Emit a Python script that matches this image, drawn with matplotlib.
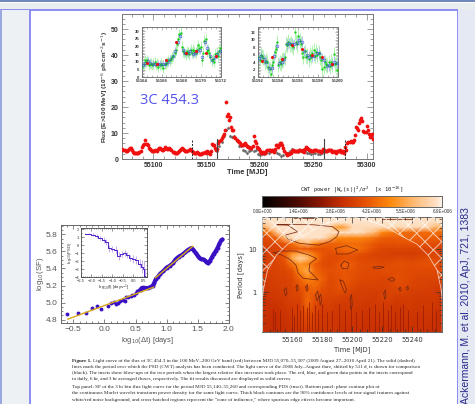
import numpy as np
import matplotlib
matplotlib.use("Agg")
import matplotlib.pyplot as plt
from matplotlib.colors import LinearSegmentedColormap
from matplotlib.patches import Rectangle
from matplotlib.ticker import MultipleLocator, FixedLocator, NullFormatter, FormatStrFormatter

# ---------- data ----------
flux_mjd = [55071,55073,55075,55077,55079,55081,55083,55085,55087,55089,55091,55092,55093,55095,55097,55099,
            55101,55103,55105,55107,55109,55111,55113,55115,55117,55119,55121,55123,55125,55127,55129,55131,
            55133,55135,55137,55139,55141,55143,55145,55147,55149,55151,55153,55155,55157,55159,55161,55163,
            55165,55167,55168,55169,55170,55171,55172,55174,55175,55176,55178,55180,55182,55184,55186,55188,
            55190,55192,55194,55195,55197,55199,55201,55203,55205,55207,55209,55211,55213,55215,55217,55219,
            55221,55223,55225,55227,55229,55231,55233,55235,55237,55239,55241,55243,55245,55247,55249,55251,
            55253,55255,55257,55259,55261,55263,55265,55267,55269,55271,55273,55275,55277,55279,55281,55283,
            55285,55287,55289,55290,55292,55293,55295,55296,55297,55299,55300,55301,55303,55305,55306]
flux_val = [3.9,3.5,3.0,3.8,4.1,2.7,2.2,2.3,2.6,4.5,5.8,7.3,5.6,5.2,4.0,3.0,
            3.1,3.2,4.4,3.9,3.5,4.6,3.8,4.3,3.3,2.6,2.3,2.6,3.5,4.1,3.5,3.0,
            3.4,3.6,2.6,2.2,2.6,1.9,2.0,2.4,2.5,2.8,1.9,5.7,5.2,3.5,6.0,7.5,
            8.8,11.0,22.0,16.5,17.5,15.0,16.0,11.0,11.2,8.5,7.5,6.5,5.5,5.5,6.0,5.0,
            4.5,4.2,8.8,7.0,4.7,3.8,2.3,2.6,2.4,3.5,3.5,3.5,2.8,5.5,4.6,6.3,
            5.4,3.0,1.7,2.0,2.5,3.3,3.0,2.9,3.4,3.2,2.8,4.6,3.8,3.5,3.2,3.3,
            3.4,3.0,2.8,3.7,3.2,3.2,3.5,3.6,3.0,2.5,3.0,3.3,2.8,2.4,3.6,6.4,
            6.8,6.4,9.2,12.4,11.2,13.7,15.7,14.8,10.9,10.2,12.8,11.0,8.5,9.5,7.6]
flux2_mjd = [55072,55074,55076,55078,55080,55082,55084,55086,55088,55090,55094,55096,55098,55100,55102,55104,55106,55108,55110,55112,
             55114,55116,55118,55120,55122,55124,55126,55128,55130,55132,55134,55136,55138,55140,55142,55144,55146,55148,55150,55152,
             55154,55156,55158,55160,55162,55164,55166,55173,55177,55179,55181,55183,55185,55187,55189,55191,55193,55196,55198,55200,
             55202,55204,55206,55208,55210,55212,55214,55216,55218,55220,55222,55224,55226,55228,55230,55232,55234,55236,55238,55240,
             55242,55244,55246,55248,55250,55252,55254,55256,55258,55260,55262,55264,55266,55268,55270,55272,55274,55276,55278,55280,
             55282,55284,55286,55288,55291,55294,55298,55302,55304]
flux2_val = [3.6,3.2,3.5,4.2,3.3,2.4,2.5,2.2,3.2,5.2,5.6,4.4,3.3,3.0,3.5,3.9,4.3,3.6,4.0,4.2,
             4.0,3.8,2.8,2.4,2.4,3.0,3.9,3.8,3.2,3.2,3.7,3.0,2.4,2.4,2.2,1.8,2.2,2.6,2.9,2.2,
             3.0,5.5,4.4,3.8,6.8,8.0,9.5,12.5,8.0,7.0,6.0,5.2,5.8,5.5,4.6,4.4,5.0,6.0,4.2,3.0,
             2.4,2.5,3.0,3.6,3.2,3.0,4.0,5.2,5.5,6.0,4.2,2.2,1.8,2.2,3.0,3.2,2.9,3.2,3.3,3.6,
             4.0,4.2,3.6,3.2,3.2,3.4,3.2,2.9,3.2,3.5,3.2,3.4,3.3,2.8,2.7,3.2,3.0,2.6,3.0,4.5,
             6.2,6.6,6.6,7.5,12.0,15.0,10.5,9.5,9.0]

comp_mjd = [55160,55162,55164,55166,55168,55170,55172,55174,55176,55178,55180,55182,55184,55186,55188,55190,55192,
            55194,55196,55198,55200,55202,55204,55206,55208,55210,55212,55214,55216,55218,55220,55222,55224,55226,
            55228,55230,55232,55234,55236,55238,55240,55242,55244,55246,55248,55250,55252,55254,55256,55258]
comp_val = [3.0,5.0,6.5,9.0,11.0,12.0,9.0,8.5,9.0,7.0,5.0,5.0,3.5,3.0,2.5,3.0,3.5,
            3.0,3.5,2.0,1.5,2.0,1.8,2.2,2.3,3.0,3.5,3.2,2.5,1.8,1.2,1.5,1.8,2.5,
            3.2,3.8,3.5,3.0,2.8,3.0,2.8,3.0,2.5,2.2,2.0,2.2,2.5,2.0,1.8,2.5]

solid_marks = [55160, 55260]
dashed_marks = [55136.6, 55279.6]
mark_height = 7.7

ins1_daily_mjd = [55164.5,55165.5,55166.5,55167.5,55168.5,55169.5,55170.5,55171.5]
ins1_daily = [9.1,8.5,11,22.7,16,17,16,14]
ins1_6hr = [8,9.5,10.5,9.5, 9,9,8.5,9, 8.5,8.5,10,12, 14,17,23,27, 18,16,16,17, 15,16,17,18, 13,23,19,14, 11,13,15,17]
ins1_3hr = [7,9,11,10,11,8,9,9, 8,9,10,8,9,7,8,9, 8,6,9,9,10,11,11,12, 13,14,16,18,22,25,28,29,
            20,17,16,15,17,16,15,18, 16,18,17,16,18,21,19,20, 11,16,24,25,17,18,16,13, 11,12,10,15,16,14,17,19]

ins2_daily_mjd = [55192.4,55193.4,55194.4,55195.4,55196.4,55197.4,55198.4,55199.4]
ins2_daily = [4.4,5.4,5,8.6,7.5,6,5.4,3.5]
ins2_6hr = [5.2,5.8,4.8,4.2, 2.6,2.6,5.8,8.4, 3.8,4.2,5.0,8.8, 9.2,9.0,8.8,9.2, 10,9.5,7.0,6.0, 5.5,5.6,5.8,6.4, 6.5,5.2,4.6,3.0, 3.2,3.6,4.2,3.8]
ins2_3hr = [5.5,4.5,6.0,5.6,5.2,4.0,4.4,4.0, 2.8,2.2,1.0,3.4,4.2,6.8,7.5,9.4, 3.4,4.0,3.6,4.5,4.8,5.4,9.0,8.5,
            9.5,8.8,9.0,8.5,8.0,12.0,9.5,8.8, 11,9.8,9.0,6.5,5.5,7.0,5.5,5.8, 4.8,6.0,5.5,6.5,7.2,5.8,6.8,6.0,
            6.5,5.4,4.5,2.2,2.8,4.0,3.5,3.2, 4.0,3.0,4.2,3.4,6.2,3.5,3.8,2.0]

sf_logdt = [-0.6,-0.43,-0.3,-0.2,-0.12,-0.05,0.05,0.1,0.15,0.19,0.22,0.25,0.3,0.33,0.35,0.38,0.42,0.45,0.48,0.5,0.52,0.55,0.58,
            0.6,0.63,0.66,0.7,0.74,0.78,0.8,0.83,0.86,0.9,0.95,1.0,1.05,1.1,1.15,1.2,1.25,1.3,1.35,1.4,1.43,1.47,1.5,1.53,1.56,1.6,
            1.64,1.67,1.7,1.73,1.76,1.79,1.82,1.85,1.88,1.9]
sf_val = [4.86,4.88,4.88,4.94,4.955,4.93,4.955,5.0,5.01,4.985,4.99,5.02,5.03,5.02,5.06,5.07,5.08,5.085,5.09,5.11,5.13,5.15,5.15,
          5.17,5.175,5.17,5.17,5.18,5.2,5.23,5.28,5.3,5.34,5.37,5.41,5.43,5.46,5.51,5.54,5.56,5.59,5.62,5.64,5.62,5.58,5.55,5.52,5.51,5.505,
          5.48,5.46,5.49,5.53,5.57,5.6,5.64,5.69,5.73,5.74]
fit1_x, fit1_y = [-0.59,0.79], [4.805,5.18]
fit2_x, fit2_y = [0.82,1.42], [5.29,5.66]

psd_logf = [-2.3,-2.1,-1.95,-1.75,-1.6,-1.4,-1.3,-1.15,-1.0,-0.85,-0.7,-0.55,-0.4,-0.3,-0.15,0.0,0.15,0.3,0.4,0.5,0.57]
psd_val = [1.45,1.45,1.3,1.15,0.9,0.65,0.4,-0.4,-0.45,-0.55,-1.3,-1.1,-1.0,-1.2,-1.6,-1.7,-1.9,-2.3,-2.7,-3.0,-3.8]
psd_err = [0.1,0.1,0.2,0.25,0.3,0.4,0.4,0.4,0.4,0.4,0.5,0.4,0.4,0.4,0.4,0.5,0.5,0.6,0.8,1.0,0.9]

# wavelet power in units of 1e6, rows = log10(period), columns = MJD
cwt_mjd = [55140,55145,55150,55155,55160,55165,55170,55175,55180,55185,55190,55195,55200,55205,55210,55215,55220,55225,55230,55235,55240,55245,55250,55255,55260]
cwt_logp = [1.73,1.6,1.5,1.38,1.25,1.12,1.0,0.88,0.78,0.65,0.5,0.3,0.1,-0.1,-0.3,-0.5,-0.91]
cwt_power = [
 [7]*25,
 [6.6,6.9,7,7,7,7,7,7,7,7,7,7,7,7,7,7,7,7,7,7,7,7,6.8,6.8,6.8],
 [5.5,6.6,7,7,7,7,7,7,7,6.8,5.2,5.4,6.8,6.8,6.8,6.8,6.8,6.8,6.8,6.8,6.8,6.8,6.8,6.0,5.5],
 [3.8,4.4,6.5,7,7,7,7,7,7,7,7,7,7,7,6.5,6.0,4.9,4.6,4.3,4.2,4.0,4.0,4.2,4.2,4.0],
 [3.2,3.4,4.0,6.0,7,7,7,7,7,6.0,4.9,4.8,4.7,4.8,4.6,4.2,3.8,3.7,3.7,3.8,3.9,3.9,3.8,3.8,3.6],
 [3.0,3.0,3.2,3.6,4.2,5.4,6.0,5.0,4.2,3.9,3.9,4.1,4.2,4.1,3.9,3.6,3.4,3.4,3.5,3.5,3.4,3.4,3.4,3.3,3.2],
 [2.9,2.9,3.0,3.2,3.5,3.7,3.6,3.4,3.4,3.6,3.9,4.2,4.4,4.2,3.8,3.3,3.1,3.0,3.0,3.0,3.0,3.0,3.0,3.0,2.9],
 [2.8,2.9,3.1,3.9,5.2,5.6,5.4,4.4,3.6,3.3,3.4,3.6,3.6,3.4,3.2,3.0,2.9,2.9,2.8,2.8,2.8,2.9,3.0,3.0,2.9],
 [2.8,2.9,3.1,3.6,5.6,6.6,6.0,4.8,3.5,3.2,3.2,3.5,3.4,3.2,3.1,3.1,3.0,3.0,3.1,3.1,3.0,3.2,3.3,3.3,3.1],
 [2.9,3.0,3.1,3.3,4.4,5.2,4.8,3.8,3.3,3.2,3.5,3.9,3.7,3.3,3.3,3.3,3.2,3.3,3.4,3.4,3.3,3.4,3.5,3.4,3.2],
 [2.9,2.9,3.0,3.1,3.4,5.0,5.6,4.1,3.6,3.4,3.5,3.6,3.5,3.3,3.2,3.2,3.3,3.3,3.3,3.3,3.2,3.2,3.2,3.2,3.1],
 [2.7,2.8,2.9,2.9,3.1,3.9,4.8,4.3,3.9,3.2,3.4,3.6,3.4,3.2,3.1,3.1,3.0,3.1,3.4,3.3,3.1,3.0,3.0,3.0,2.9],
 [2.5,2.7,2.8,2.9,3.0,3.4,3.7,4.1,3.4,3.1,3.4,3.5,3.1,2.9,2.9,2.9,2.9,3.0,3.2,3.1,2.9,2.9,2.9,2.8,2.7],
 [2.4,2.6,2.7,2.8,3.0,3.0,4.0,3.5,3.1,3.0,3.0,2.9,2.8,2.8,2.8,2.7,2.9,3.0,2.8,2.8,2.8,2.7,2.7,2.7,2.6],
 [2.4,2.4,2.5,2.7,2.8,2.8,4.0,3.2,2.8,2.9,2.7,2.7,2.7,2.7,2.6,2.7,2.8,2.7,2.6,2.7,2.7,2.6,2.7,2.6,2.5],
 [2.4,2.4,2.4,2.5,2.7,2.8,3.4,3.0,2.7,2.7,2.6,2.6,2.6,2.6,2.5,2.6,2.6,2.6,2.5,2.6,2.6,2.5,2.6,2.5,2.4],
 [2.3,2.3,2.3,2.3,2.5,2.6,2.8,2.7,2.5,2.5,2.5,2.4,2.4,2.4,2.4,2.4,2.4,2.4,2.4,2.4,2.4,2.4,2.4,2.3,2.3],
]
streak_mjd = [55146.9,55148.4,55151.8,55160,55161.3,55163.1,55165.1,55167.3,55169.6,55171.1,55173.3,55175.1,55177.3,55180,55183.3,
              55186.2,55191.1,55195.1,55198.9,55202.2,55206.2,55211.3,55215.1,55218,55220.7,55224,55225.8,55228.4,55231.8,55234,55237.3,
              55242.9,55247.3,55252.9,55255.6]
streak_top = [0.42,0.35,0.4,0.45,0.3,0.55,0.4,0.5,0.45,0.6,0.35,0.5,0.4,0.55,0.35,
              0.4,0.55,0.4,0.5,0.35,0.4,0.45,0.55,0.35,0.6,0.4,0.5,0.35,0.45,0.55,0.4,
              0.35,0.5,0.6,0.4]
streak_bottom = 0.125

contours = [
 ([55149.8,55157,55174,55187,55191.1,55189.6,55185,55177.3,55165,55157.3,55155.3,55163.7,55157,55149.8],
  [1.56,1.565,1.56,1.515,1.40,1.285,1.17,1.09,1.13,1.225,1.32,1.40,1.55,1.56]),
 ([55147.3,55152.9,55161.8,55171.1,55176.2,55171.8,55171.1,55177.3,55172.9,55167.3,55164,55162.4,55158.4,55152.9,55147.3],
  [0.915,0.954,0.954,0.862,0.777,0.669,0.50,0.285,0.30,0.323,0.438,0.63,0.76,0.862,0.915]),
 ([55188.9,55196.2,55203.6,55197,55189.6,55188.9], [1.015,1.077,0.977,0.885,0.885,1.015]),
 ([55192.4,55194.7,55197.8,55196.9,55193.3,55192.4], [0.63,0.723,0.67,0.546,0.546,0.63]),
 ([55214,55218,55221.3,55218,55214.5,55214], [0.58,0.60,0.58,0.55,0.56,0.58]),
 ([55224,55226.5,55228.4,55226.5,55224], [0.30,0.346,0.29,0.246,0.30]),
 ([55191.8,55194,55196.2,55195.3,55193.5,55191.8], [0.285,0.26,0.06,-0.02,0.10,0.285]),
 ([55154.5,55155.9,55156.5,55155.5,55154.5], [0.05,0.11,0.0,-0.09,0.05]),
 ([55162.5,55163.5,55164,55163.2,55162.5], [0.12,0.18,0.08,0.02,0.12]),
 ([55169,55170,55170.5,55169.6,55169], [0.12,0.18,0.08,0.02,0.12]),
 ([55175.5,55177,55177.5,55176.4,55175.5], [-0.05,0.03,-0.12,-0.2,-0.05]),
 ([55221,55222,55222.5,55221.5,55221], [-0.02,0.06,-0.1,-0.16,-0.02]),
 ([55231,55232.2,55232.6,55231.8,55231], [0.09,0.12,0.06,0.02,0.09]),
 ([55236,55237,55237.5,55236.7,55236], [0.11,0.14,0.08,0.05,0.11]),
 ([55178,55179,55179.5,55178.6,55178], [-0.1,-0.04,-0.2,-0.3,-0.1]),
 ([55198.5,55199.5,55200,55199,55198.5], [-0.15,-0.05,-0.3,-0.4,-0.15]),
 ([55161,55176], [1.71,1.71]),
 ([55220,55240], [1.70,1.70]),
]
coi_logp = [-0.91,-0.18,0.076,0.515,0.86,1.115,1.32,1.55,1.75]
coi_offset = [0,0,0.8,3.5,9.5,17,28.3,39.5,60]

cbar_ticks = [0, 1.4, 2.8, 4.2, 5.5, 6.9]
cbar_labels = ["0.0E+000","1.4E+006","2.8E+006","4.2E+006","5.5E+006","6.9E+006"]

caption_lines = [
 "Light curve of the flux of 3C 454.3 in the 100 MeV–200 GeV band (red) between MJD 55,070–55,307 (2009 August 27–2010 April 21). The solid (dashed)",
 "lines mark the period over which the PSD (CWT) analysis has been conducted. The light curve of the 2008 July–August flare, shifted by 511 d, is shown for comparison",
 "(black). The insets show blow-ups of the two periods when the largest relative flux increases took place. The red, blue, and green data points in the insets correspond",
 "to daily, 6 hr, and 3 hr averaged fluxes, respectively. The fit results discussed are displayed as solid curves.",
 "Top panel: SF of the 3 hr bin flux light curve for the period MJD 55,140–55,260 and corresponding PDS (inset). Bottom panel: plane contour plot of",
 "the continuous Morlet wavelet transform power density for the same light curve. Thick black contours are the 90% confidence levels of true signal features against",
 "white/red noise background, and cross-hatched regions represent the “cone of influence,” where spurious edge effects become important.",
]

# ---------- figure ----------
W, H = 475, 404
plt.rcParams['font.family'] = ['Liberation Sans', 'DejaVu Sans']
plt.rcParams['mathtext.fontset'] = 'dejavusans'
plt.rcParams['hatch.linewidth'] = 0.7
fig = plt.figure(figsize=(W/100, H/100), dpi=100, facecolor='white')

def pxrect(l, t, r, b, c):
    fig.add_artist(Rectangle((l/W, 1-b/H), (r-l)/W, (b-t)/H, transform=fig.transFigure, fc=c, ec='none', zorder=-5))

def pxaxes(l, t, r, b):
    return fig.add_axes([l/W, 1-b/H, (r-l)/W, (b-t)/H])

def pxtext(x, y, s, **kw):
    kw.setdefault('ha', 'center'); kw.setdefault('va', 'center')
    return fig.text(x/W, 1-y/H, s, **kw)

pxrect(0, 3, W, 9.5, '#e9edf0')
pxrect(0, 0, W, 2, '#7189ba')
pxrect(0, 9, 457, 10.5, '#8c90f4')
pxrect(0, 10, 29.5, H, '#eef1f3')
pxrect(29, 10, 31, H, '#8c90f4')
pxrect(0, 10, 2, H, '#9aa8e0')
pxrect(458, 10, W, H, '#e4e9f3')
pxrect(456.5, 9, 458, H, '#8c90f4')

FR = '#777777'
def frame(ax, c=FR, lw=0.7):
    for s in ax.spines.values():
        s.set_color(c); s.set_linewidth(lw)

# main light curve
ax = pxaxes(122, 14, 373, 159)
ax.set_xlim(55070.6, 55306)
ax.set_ylim(0, 55.8)
frame(ax)
ax.errorbar(comp_mjd, comp_val, yerr=0.8, fmt='none', ecolor='#c8c8c8', elinewidth=0.5, zorder=2)
ax.plot(comp_mjd, comp_val, ls='none', marker='o', ms=1.6, mfc='#666666', mec='#333333', mew=0.2, zorder=3)
for mx, my in ((flux_mjd, flux_val), (flux2_mjd, flux2_val)):
    ax.errorbar(mx, my, yerr=0.7, fmt='none', ecolor='#f6b0b0', elinewidth=0.5, zorder=4)
    ax.plot(mx, my, ls='none', marker='o', ms=2.7, color='#f01010', mec='none', zorder=5)
for m in solid_marks:
    ax.plot([m, m], [0, mark_height], color='#444444', lw=0.8, zorder=6)
for m in dashed_marks:
    ax.plot([m, m], [0, mark_height], color='#222222', lw=0.7, ls=(0, (2, 1.5)), zorder=6)
ax.xaxis.set_major_locator(FixedLocator([55100, 55150, 55200, 55250, 55300]))
ax.xaxis.set_minor_locator(MultipleLocator(10))
ax.yaxis.set_major_locator(MultipleLocator(10))
ax.yaxis.set_minor_locator(MultipleLocator(2))
ax.xaxis.set_major_formatter(FormatStrFormatter('%d'))
ax.tick_params(which='both', direction='in', top=True, right=True, color=FR, width=0.5)
ax.tick_params(which='major', length=4, pad=2.5, labelsize=5.0, labelcolor='#333333')
ax.tick_params(which='minor', length=2)
for t in ax.get_xticklabels() + ax.get_yticklabels():
    t.set_fontweight('bold')
pxtext(247, 172.5, 'Time [MJD]', fontsize=5.4, fontweight='bold', color='#333333')
pxtext(105, 87, 'Flux [E>100 MeV] (10$^{-6}$ ph cm$^{-2}$s$^{-1}$)', rotation=90, fontsize=4.6, fontweight='bold', color='#333333')
pxtext(169.5, 100.5, '3C 454.3', fontsize=10.5, color='#5555ee', family='Open Sans')

def inset(l, r, x0, x1, ytop, ymaj, daily_x, daily, hr6, hr3, err3, err6):
    a = pxaxes(l, 26.7, r, 77.3)
    a.set_xlim(x0, x1); a.set_ylim(0, ytop)
    frame(a)
    t3 = [x0 + (i + 0.5) / 8 for i in range(len(hr3))]
    t6 = [x0 + (i + 0.5) / 4 for i in range(len(hr6))]
    a.errorbar(t3, hr3, yerr=err3, fmt='none', ecolor='#a4f0a4', elinewidth=0.6, zorder=2)
    a.errorbar(t6, hr6, yerr=err6, fmt='none', ecolor='#a8b8f0', elinewidth=0.6, zorder=3)
    a.plot(t3, hr3, ls='none', marker='o', ms=1.7, color='#18d018', mec='none', zorder=4)
    a.plot(t6, hr6, ls='none', marker='o', ms=2.0, mfc='none', mec='#3a50d0', mew=0.4, zorder=5)
    a.plot(daily_x, daily, ls='none', marker='o', ms=2.2, color='#e81010', mec='none', zorder=6)
    a.xaxis.set_major_locator(MultipleLocator(2)); a.xaxis.set_minor_locator(MultipleLocator(0.5))
    a.yaxis.set_major_locator(MultipleLocator(ymaj)); a.yaxis.set_minor_locator(MultipleLocator(ymaj / 5))
    a.xaxis.set_major_formatter(FormatStrFormatter('%d'))
    a.tick_params(which='both', direction='in', top=True, right=True, color=FR, width=0.4)
    a.tick_params(which='major', length=2.5, pad=1.5, labelsize=3.1, labelcolor='#333333')
    a.tick_params(which='minor', length=1.2)
    for t in a.get_xticklabels() + a.get_yticklabels():
        t.set_fontweight('bold')

inset(141.7, 221, 55164, 55172, 33, 5, ins1_daily_mjd, ins1_daily, ins1_6hr, ins1_3hr, 3.5, 2.5)
inset(257.7, 338, 55192, 55200, 13.5, 2, ins2_daily_mjd, ins2_daily, ins2_6hr, ins2_3hr, 2.0, 1.4)

# structure function
GT = '#555555'
sf = pxaxes(61, 225, 228.7, 323)
sf.set_xlim(-0.7, 2.0); sf.set_ylim(4.76, 5.91)
frame(sf, '#666666')
sf.plot(sf_logdt, sf_val, ls='none', marker='o', ms=2.8, color='#3a10c4', mec='none', zorder=3)
sf.plot(sf_logdt[22:], sf_val[22:], color='#3a10c4', lw=3.0, solid_capstyle='round', zorder=3)
sf.plot(fit1_x, fit1_y, color='#d8a818', lw=1.0, zorder=4)
sf.plot(fit2_x, fit2_y, color='#d8a818', lw=1.0, zorder=4)
sf.xaxis.set_minor_locator(MultipleLocator(0.1))
sf.yaxis.set_major_locator(MultipleLocator(0.2)); sf.yaxis.set_minor_locator(MultipleLocator(0.05))
sf.set_xticks([-0.5, 0, 0.5, 1, 1.5, 2.0])
sf.set_xticklabels(['−0.5', '0.0', '0.5', '1.0', '1.5', '2.0'])
sf.tick_params(which='both', direction='in', top=True, right=True, color='#555555', width=0.5)
sf.tick_params(which='major', length=3, labelsize=6, labelcolor=GT, pad=2.5)
sf.tick_params(which='minor', length=1.5)
pxtext(147, 340.5, 'log$_{10}$($\\Delta$t) [days]', fontsize=5.4, color=GT)
pxtext(40, 274, 'log$_{10}$(SF)', rotation=90, fontsize=5.6, color=GT)

pi = pxaxes(81, 228.3, 147.3, 277.3)
pi.set_xlim(-2.5, 0.67); pi.set_ylim(-4, 2.1)
frame(pi, '#444444', 0.6)
pi.errorbar(psd_logf, psd_val, yerr=psd_err, fmt='none', ecolor='#b9a0e6', elinewidth=0.6, zorder=2)
pi.step(psd_logf, psd_val, where='mid', color='#5020cc', lw=0.7, zorder=3)
pi.xaxis.set_minor_locator(MultipleLocator(0.1))
pi.yaxis.set_minor_locator(MultipleLocator(0.5))
pi.set_xticks([-2.5, -2, -1.5, -1, -0.5, 0, 0.5])
pi.set_xticklabels(['−2.5', '−2.0', '−1.5', '−1.0', '−0.5', '0.0', '0.5'])
pi.set_yticks([-4, -3, -2, -1, 0, 1, 2])
pi.set_yticklabels(['−4', '−3', '−2', '−1', '0', '1', '2'])
pi.tick_params(which='both', direction='in', top=True, right=True, color='#444444', width=0.4)
pi.tick_params(which='major', length=2, labelsize=2.9, labelcolor='#333333', pad=1.2)
pi.tick_params(which='minor', length=1)
pxtext(114, 287.5, 'log$_{10}$(f) [days$^{-1}$]', fontsize=3.0, color='#333333')
pxtext(69.5, 253, 'log$_{10}$(PSD)', rotation=90, fontsize=3.0, color='#333333')

# wavelet power
cmap = LinearSegmentedColormap.from_list('cwt', [
    (0.0, '#000000'), (0.2, '#4e0a02'), (0.33, '#8c1800'), (0.45, '#c93002'),
    (0.58, '#e85404'), (0.72, '#ff8c10'), (0.86, '#ffc080'), (0.97, '#fde0c4'), (1.0, '#fff4ea')])
cw = pxaxes(262.3, 217.3, 442.3, 331.7)
period = [10**v for v in cwt_logp]
# read-off levels corrected against the colour bar
cwt_levels = np.interp(np.array(cwt_power), [2, 3, 4, 5, 7], [2.9, 3.75, 4.5, 5.2, 7])
cw.pcolormesh(cwt_mjd, period, cwt_levels, cmap=cmap, vmin=0, vmax=7.2, shading='gouraud', zorder=1, rasterized=True)
cw.set_yscale('log')
cw.set_xlim(55140, 55260); cw.set_ylim(0.123, 54)
cw.vlines(streak_mjd, streak_bottom, streak_top, color='#9a1c02', lw=0.55, zorder=2)
for cx, cy in contours:
    cw.plot(cx, [10**v for v in cy], color='#7a2a12', lw=0.55, zorder=3)
per_coi = [10**v for v in coi_logp]
left_edge = [55140 + v for v in coi_offset]
right_edge = [55260 - v for v in coi_offset]
cw.fill_betweenx(per_coi, 55140, left_edge, facecolor='none', edgecolor='#ffffffb0', hatch='xx', lw=0.6, zorder=4)
cw.fill_betweenx(per_coi, right_edge, 55260, facecolor='none', edgecolor='#ffffffb0', hatch='xx', lw=0.6, zorder=4)
frame(cw, '#666666')
cw.set_xticks([55160, 55180, 55200, 55220, 55240])
cw.xaxis.set_major_formatter(FormatStrFormatter('%d'))
cw.xaxis.set_minor_locator(MultipleLocator(5))
cw.set_yticks([1, 10]); cw.set_yticklabels(['1', '10'])
cw.yaxis.set_minor_formatter(NullFormatter())
cw.tick_params(which='both', direction='in', top=True, right=True, color='#333333', width=0.5)
cw.tick_params(which='major', length=4, labelsize=4.9, labelcolor='#333333', pad=4)
cw.tick_params(which='minor', length=2)
for t in cw.get_xticklabels() + cw.get_yticklabels():
    t.set_family('DejaVu Sans')
pxtext(352, 349.5, 'Time [MJD]', fontsize=4.8, family='DejaVu Sans', color='#333333')
pxtext(241, 275, 'Period [days]', rotation=90, fontsize=5, family='DejaVu Sans', color='#333333')

cb = pxaxes(262.3, 195.7, 442.3, 206.7)
cb.imshow(np.linspace(0, 7.2, 256).reshape(1, -1), cmap=cmap, vmin=0, vmax=7.2, aspect='auto', extent=[0, 6.9, 0, 1])
frame(cb, '#666666')
cb.set_yticks([])
cb.set_xticks(cbar_ticks); cb.set_xticklabels(cbar_labels)
cb.tick_params(axis='x', length=0, pad=1.8, labelsize=3.3, labelcolor='#333333')
pxtext(351.5, 189.5, 'CWT power |W$_n$(s)|$^2$/$\\sigma^2$  [x 10$^{-16}$]', fontsize=4.0, family='DejaVu Sans Mono', color='#222222')

# caption
cap_y = [360.7, 367.3, 373.3, 379.3, 386.7, 393.3, 399.6]
cap_x = [92.7, 71.7, 71.7, 71.7, 71.7, 71.7, 71.7]
cap_size = 3.72
pxtext(71.7, cap_y[0], 'Figure 1.', fontsize=cap_size, family='Liberation Serif', fontweight='bold', ha='left', color='#222222')
for s, xx, yy in zip(caption_lines, cap_x, cap_y):
    pxtext(xx, yy, s, fontsize=cap_size, family='Liberation Serif', ha='left', color='#222222')

pxtext(465.7, 404, 'Ackermann, M. et al. 2010, ApJ, 721, 1383', rotation=90, fontsize=7.5, color='#2a2a8c', va='bottom')

fig.savefig('out.png', dpi=100)
